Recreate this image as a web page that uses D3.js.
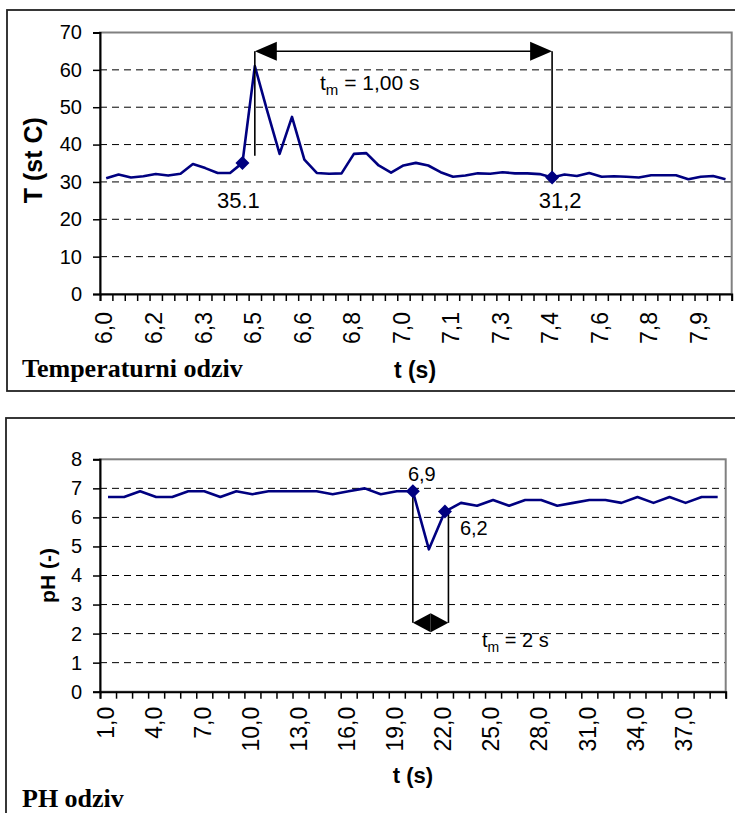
<!DOCTYPE html>
<html>
<head>
<meta charset="UTF-8">
<title>Temperaturni i pH odziv</title>
<script src="https://cdn.jsdelivr.net/npm/d3@7.8.5/dist/d3.min.js"></script>
<style>
  * { margin: 0; padding: 0; }
  body { background: #fff; width: 735px; height: 813px; overflow: hidden; }
  svg { display: block; font-family: 'Liberation Sans', Arial, sans-serif; }
</style>
</head>
<body>
<svg id="chart" width="735" height="813"></svg>
<script>
// temperatura, jedno ocitanje svakih 0,04 s od 6,0 s
const tempValues = [31, 32, 31.2, 31.5, 32.1, 31.7, 32.2, 34.8, 33.7, 32.4, 32.4, 35.1, 61, 49, 37.5, 47.4, 36,
  32.4, 32.2, 32.3, 37.5, 37.7, 34.4, 32.5, 34.4, 35.1, 34.4, 32.6, 31.4, 31.7, 32.3, 32.2, 32.6, 32.3, 32.3,
  32.1, 31.2, 32, 31.6, 32.4, 31.4, 31.5, 31.4, 31.2, 31.8, 31.8, 31.8, 30.7, 31.4, 31.6, 30.7];
const tempTickLabels = ["6,0", "6,2", "6,3", "6,5", "6,6", "6,8", "7,0", "7,1", "7,3", "7,4", "7,6", "7,8", "7,9"];
const tempMarked = [11, 36];
const tempMarkLabels = ["35.1", "31,2"];

// pH, jedno ocitanje svake sekunde od 1 s
const phValues = [6.7, 6.7, 6.9, 6.7, 6.7, 6.9, 6.9, 6.7, 6.9, 6.8, 6.9, 6.9, 6.9, 6.9, 6.8, 6.9, 7.0, 6.8, 6.9,
  6.9, 4.9, 6.2, 6.5, 6.4, 6.6, 6.4, 6.6, 6.6, 6.4, 6.5, 6.6, 6.6, 6.5, 6.7, 6.5, 6.7, 6.5, 6.7, 6.7];
const phTickLabels = ["1,0", "4,0", "7,0", "10,0", "13,0", "16,0", "19,0", "22,0", "25,0", "28,0", "31,0", "34,0", "37,0"];
const phMarked = [19, 21];
const phMarkLabels = ["6,9", "6,2"];

const svg = d3.select("#chart");
const navy = "#000080";

function diamond(g, cx, cy) {
  g.append("path")
    .attr("d", `M${cx},${cy - 7}L${cx + 7},${cy}L${cx},${cy + 7}L${cx - 7},${cy}Z`)
    .attr("fill", navy);
}

function arrowHead(g, tipX, y, dir, len, half) {
  g.append("path")
    .attr("d", `M${tipX},${y}L${tipX + dir * len},${y - half}L${tipX + dir * len},${y + half}Z`)
    .attr("fill", "#000");
}

function panel(o) {
  const g = svg.append("g");

  // okvir grafikona
  g.append("rect")
    .attr("x", o.frame[0]).attr("y", o.frame[1])
    .attr("width", o.frame[2]).attr("height", o.frame[3])
    .attr("fill", "none").attr("stroke", "#222").attr("stroke-width", 1.8);

  const n = o.values.length;
  const x = d3.scaleBand().domain(d3.range(n)).range([o.left, o.right]);
  const xb = d3.scaleLinear().domain([0, n]).range([o.left, o.right]);
  const y = d3.scaleLinear().domain([0, o.yMax]).range([o.bottom, o.top]);
  const cx = i => x(i) + x.bandwidth() / 2;

  // isprekidane linije mreze
  g.selectAll(".grid")
    .data(d3.range(o.yStep, o.yMax, o.yStep))
    .enter().append("line")
    .attr("x1", o.left).attr("x2", o.right)
    .attr("y1", d => y(d)).attr("y2", d => y(d))
    .attr("stroke", "#000").attr("stroke-width", 1)
    .attr("stroke-dasharray", "7,5");

  // rub podrucja crtanja
  g.append("rect")
    .attr("x", o.left).attr("y", o.top)
    .attr("width", o.right - o.left).attr("height", o.bottom - o.top)
    .attr("fill", "none").attr("stroke", "#808080").attr("stroke-width", 2);

  // y os
  const ya = g.append("g")
    .attr("transform", `translate(${o.left},0)`)
    .call(d3.axisLeft(y).tickValues(d3.range(0, o.yMax + o.yStep / 2, o.yStep)).tickSize(7).tickPadding(11).tickFormat(d3.format("d")));
  ya.select(".domain").attr("stroke", "#000").attr("stroke-width", 2);
  ya.selectAll(".tick line").attr("stroke", "#000").attr("stroke-width", 1.5);
  ya.selectAll(".tick text")
    .attr("font-family", "'Liberation Sans', Arial, sans-serif")
    .attr("font-size", o.yFont).attr("fill", "#000");

  // x os
  const xa = g.append("g")
    .attr("transform", `translate(0,${o.bottom})`)
    .call(d3.axisBottom(xb).tickValues(d3.range(n + 1)).tickSize(7).tickFormat(""));
  xa.select(".domain").attr("stroke", "#000").attr("stroke-width", 2);
  xa.selectAll(".tick line").attr("stroke", "#000").attr("stroke-width", 1.5);

  g.selectAll(".xlab")
    .data(o.tickLabels)
    .enter().append("text")
    .attr("transform", (d, i) => `translate(${cx(i * o.labelEvery) - 2},${o.bottom + o.labelGap}) rotate(-90)`)
    .attr("text-anchor", "end")
    .attr("dy", "0.36em")
    .attr("font-size", o.xFont)
    .text(d => d);

  // naslovi osi
  g.append("text")
    .attr("transform", `translate(${o.yTitleX},${(o.top + o.bottom) / 2 + o.yTitleDy}) rotate(-90)`)
    .attr("text-anchor", "middle")
    .attr("font-weight", "bold")
    .attr("font-size", o.yTitleFont)
    .text(o.yTitle);

  g.append("text")
    .attr("x", o.xTitleX).attr("y", o.xTitleY)
    .attr("text-anchor", "middle")
    .attr("font-weight", "bold")
    .attr("font-size", o.xTitleFont)
    .text("t (s)");

  g.append("text")
    .attr("x", 22).attr("y", o.captionY)
    .attr("font-family", "'Liberation Serif', 'Times New Roman', serif")
    .attr("font-weight", "bold")
    .attr("font-size", o.captionFont)
    .text(o.caption);

  // linija podataka
  g.append("path")
    .datum(o.values)
    .attr("d", d3.line().x((d, i) => cx(i)).y(d => y(d)))
    .attr("fill", "none").attr("stroke", navy).attr("stroke-width", 2.6)
    .attr("stroke-linejoin", "round");

  return { g, x, y, cx };
}

// ---------- temperaturni odziv ----------
const tempPanel = panel({
  values: tempValues, tickLabels: tempTickLabels, labelEvery: 4,
  frame: [7, 10, 740, 381],
  left: 100, right: 731.7, top: 32.5, bottom: 294,
  yMax: 70, yStep: 10, yFont: 20, xFont: 23, labelGap: 18,
  yTitle: "T (st C)", yTitleX: 42, yTitleDy: -3, yTitleFont: 25,
  xTitleX: 415, xTitleY: 378, xTitleFont: 23,
  caption: "Temperaturni odziv", captionY: 377, captionFont: 26
});
{
  const { g, y, cx } = tempPanel;
  const peak = 12;
  const aY = y(65);
  const xL = cx(peak), xR = cx(tempMarked[1]);
  g.append("line").attr("x1", xL).attr("x2", xL).attr("y1", aY).attr("y2", y(37))
    .attr("stroke", "#000").attr("stroke-width", 1.6);
  g.append("line").attr("x1", xR).attr("x2", xR).attr("y1", aY).attr("y2", y(tempValues[tempMarked[1]]))
    .attr("stroke", "#000").attr("stroke-width", 1.6);
  g.append("line").attr("x1", xL + 10).attr("x2", xR - 10).attr("y1", aY).attr("y2", aY)
    .attr("stroke", "#000").attr("stroke-width", 1.6);
  arrowHead(g, xL, aY, 1, 22, 9.5);
  arrowHead(g, xR, aY, -1, 22, 9.5);

  tempMarked.forEach(i => diamond(g, cx(i), y(tempValues[i])));
  const offs = [-4, 8];
  tempMarked.forEach((i, k) => {
    g.append("text")
      .attr("x", cx(i) + offs[k]).attr("y", y(23))
      .attr("text-anchor", "middle").attr("font-size", 22)
      .text(tempMarkLabels[k]);
  });

  const tm = g.append("text").attr("x", 320).attr("y", y(54.6)).attr("font-size", 21);
  tm.append("tspan").text("t");
  tm.append("tspan").attr("font-size", 15).attr("dy", 5).text("m");
  tm.append("tspan").attr("dy", -5).text(" = 1,00 s");
}

// ---------- pH odziv ----------
const phPanel = panel({
  values: phValues, tickLabels: phTickLabels, labelEvery: 3,
  frame: [6, 418, 740, 420],
  left: 100, right: 725.7, top: 459.3, bottom: 691.7,
  yMax: 8, yStep: 1, yFont: 20, xFont: 23, labelGap: 15,
  yTitle: "pH (-)", yTitleX: 55, yTitleDy: 0, yTitleFont: 21,
  xTitleX: 413, xTitleY: 783, xTitleFont: 22,
  caption: "PH odziv", captionY: 807, captionFont: 26
});
{
  const { g, y, cx } = phPanel;
  const xL = cx(phMarked[0]), xR = cx(phMarked[1]) + 3.5;
  const aY = y(2.37);
  g.append("line").attr("x1", xL).attr("x2", xL).attr("y1", y(phValues[phMarked[0]])).attr("y2", aY)
    .attr("stroke", "#000").attr("stroke-width", 1.6);
  g.append("line").attr("x1", xR).attr("x2", xR).attr("y1", y(phValues[phMarked[1]])).attr("y2", aY)
    .attr("stroke", "#000").attr("stroke-width", 1.6);
  arrowHead(g, xL, aY, 1, (xR - xL) / 2, 9.5);
  arrowHead(g, xR, aY, -1, (xR - xL) / 2, 9.5);

  phMarked.forEach(i => diamond(g, cx(i), y(phValues[i])));
  g.append("text").attr("x", cx(phMarked[0]) + 9).attr("y", y(7.25))
    .attr("text-anchor", "middle").attr("font-size", 20).text(phMarkLabels[0]);
  g.append("text").attr("x", cx(phMarked[1]) + 15).attr("y", y(5.4))
    .attr("font-size", 20).text(phMarkLabels[1]);

  const tm = g.append("text").attr("x", 482).attr("y", y(1.54)).attr("font-size", 20);
  tm.append("tspan").text("t");
  tm.append("tspan").attr("font-size", 14).attr("dy", 5).text("m");
  tm.append("tspan").attr("dy", -5).text(" = 2 s");
}
</script>
</body>
</html>
